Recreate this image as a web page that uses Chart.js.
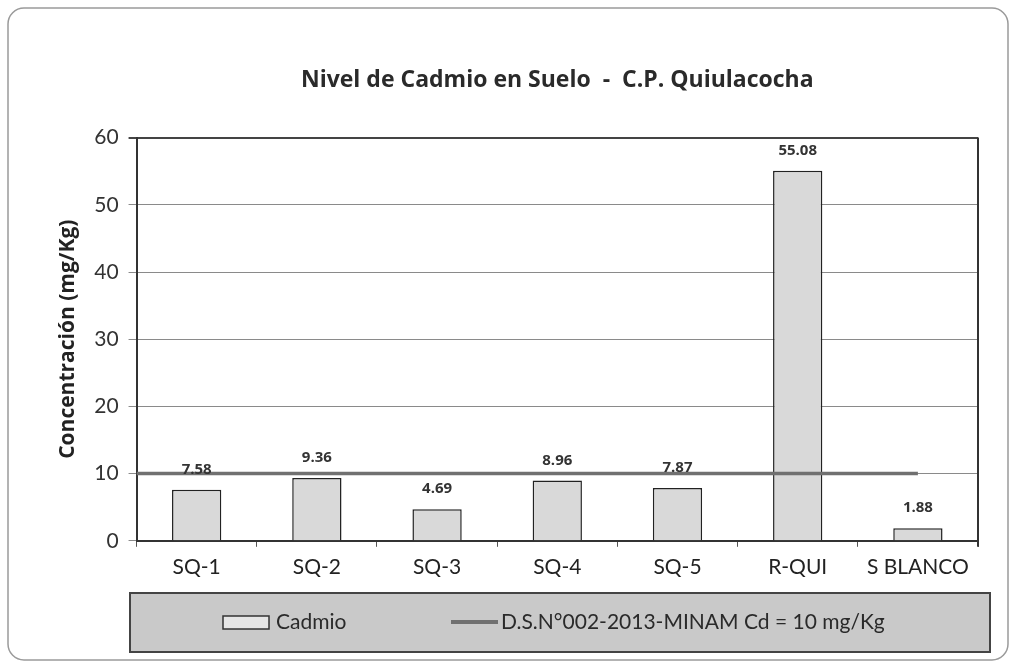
<!DOCTYPE html>
<html>
<head>
<meta charset="utf-8">
<script src="https://cdn.jsdelivr.net/npm/chart.js@4"></script>
<style>
  body { margin: 0; background: #fff; }
  #wrap { width: 1015px; height: 667px; position: relative; }
</style>
</head>
<body>
<div id="wrap"><canvas id="myChart"></canvas></div>
<script>
// datos del grafico
const categorias = ['SQ-1', 'SQ-2', 'SQ-3', 'SQ-4', 'SQ-5', 'R-QUI', 'S BLANCO'];
const cadmio = [7.58, 9.36, 4.69, 8.96, 7.87, 55.08, 1.88];
const yTicks = [0, 10, 20, 30, 40, 50, 60];
// linea del estandar (ECA) en unidades de categoria
const limiteX = [-0.5, 6];
const limiteY = [10, 10];

const fuente = 'Lato, "Open Sans", sans-serif';
const fuenteB = '"Open Sans", Lato, sans-serif';

// etiquetas de valor, marco del area y leyenda propia
const extras = {
  id: 'extras',
  afterLayout(chart) {
    // centrar el titulo sobre el area de trazado
    chart.titleBlock.left = chart.chartArea.left;
    chart.titleBlock.right = chart.chartArea.right;
  },
  beforeDraw(chart) {
    const ctx = chart.ctx;
    ctx.save();
    ctx.strokeStyle = '#9a9a9a';
    ctx.lineWidth = 1.5;
    ctx.beginPath();
    ctx.roundRect(8, 8, 1000, 652, 16);
    ctx.stroke();
    ctx.restore();
  },
  afterDatasetsDraw(chart) {
    const ctx = chart.ctx;
    const meta = chart.getDatasetMeta(0);
    ctx.save();
    ctx.font = 'bold 15px ' + fuenteB;
    ctx.fillStyle = '#333';
    ctx.textAlign = 'center';
    ctx.textBaseline = 'alphabetic';
    meta.data.forEach((bar, i) => {
      ctx.fillText(cadmio[i].toFixed(2), bar.x, bar.y - 16);
    });
    // borde derecho del area
    const a = chart.chartArea;
    ctx.strokeStyle = '#333';
    ctx.lineWidth = 2;
    ctx.beginPath();
    ctx.moveTo(a.right, a.top);
    ctx.lineTo(a.right, a.bottom + 6);
    ctx.stroke();
    ctx.restore();
  },
  afterDraw(chart) {
    const ctx = chart.ctx;
    const ds = chart.data.datasets;
    ctx.save();
    // caja gris de la leyenda
    ctx.fillStyle = '#c9c9c9';
    ctx.fillRect(130, 593, 860, 59);
    ctx.strokeStyle = '#444';
    ctx.lineWidth = 2;
    ctx.strokeRect(130, 593, 860, 59);
    const y = 622;
    ctx.font = '21px ' + fuente;
    ctx.textBaseline = 'middle';
    // item barra
    ctx.fillStyle = '#e6e6e6';
    ctx.fillRect(223, y - 6, 46, 13);
    ctx.strokeStyle = '#333';
    ctx.lineWidth = 1.5;
    ctx.strokeRect(223, y - 6, 46, 13);
    ctx.fillStyle = '#2a2a2a';
    ctx.fillText(ds[0].label, 276, y);
    // item linea
    ctx.strokeStyle = ds[1].borderColor;
    ctx.lineWidth = 4;
    ctx.beginPath();
    ctx.moveTo(451, y);
    ctx.lineTo(498, y);
    ctx.stroke();
    ctx.fillText(ds[1].label, 501, y);
    ctx.restore();
  }
};

const ctx = document.getElementById('myChart').getContext('2d');
new Chart(ctx, {
  data: {
    labels: categorias,
    datasets: [{
      type: 'bar',
      label: 'Cadmio',
      data: cadmio,
      backgroundColor: '#d9d9d9',
      borderColor: '#222',
      borderWidth: 1.5,
      categoryPercentage: 1,
      barPercentage: 0.41,
      grouped: false,
      order: 2
    }, {
      type: 'line',
      label: 'D.S.N°002-2013-MINAM Cd = 10 mg/Kg',
      data: limiteX.map((x, i) => ({ x: x, y: limiteY[i] })),
      xAxisID: 'xLinea',
      borderColor: '#707070',
      borderWidth: 3.5,
      pointRadius: 0,
      order: 1
    }]
  },
  options: {
    responsive: true,
    maintainAspectRatio: false,
    animation: false,
    layout: { padding: { left: 55, right: 37, top: 67, bottom: 79 } },
    plugins: {
      legend: { display: false },
      tooltip: { enabled: false },
      title: {
        display: true,
        text: 'Nivel de Cadmio en Suelo  -  C.P. Quiulacocha',
        color: '#2a2a2a',
        font: { family: fuenteB, size: 23, weight: 'bold' },
        padding: { top: 0, bottom: 43 }
      }
    },
    scales: {
      x: {
        type: 'category',
        offset: true,
        grid: { offset: true, drawOnChartArea: false, tickLength: 6, color: '#555' },
        border: { color: '#333', width: 2 },
        ticks: { color: '#222', font: { family: fuente, size: 21 }, padding: 8 }
      },
      xLinea: {
        type: 'linear',
        display: false,
        offset: false,
        min: -0.5,
        max: 6.5
      },
      y: {
        min: 0,
        max: 60,
        afterBuildTicks: axis => { axis.ticks = yTicks.map(v => ({ value: v })); },
        grid: {
          color: c => c.tick && c.tick.value === 60 ? '#444' : '#8a8a8a',
          lineWidth: c => c.tick && c.tick.value === 60 ? 2 : 1,
          tickLength: 8
        },
        border: { color: '#333', width: 2 },
        ticks: { color: '#333', font: { family: fuente, size: 21 }, padding: 10 },
        title: {
          display: true,
          text: 'Concentración (mg/Kg)',
          color: '#222',
          font: { family: fuenteB, size: 21, weight: 'bold' },
          padding: { top: 0, bottom: 4 }
        }
      }
    }
  },
  plugins: [extras]
});
</script>
</body>
</html>
